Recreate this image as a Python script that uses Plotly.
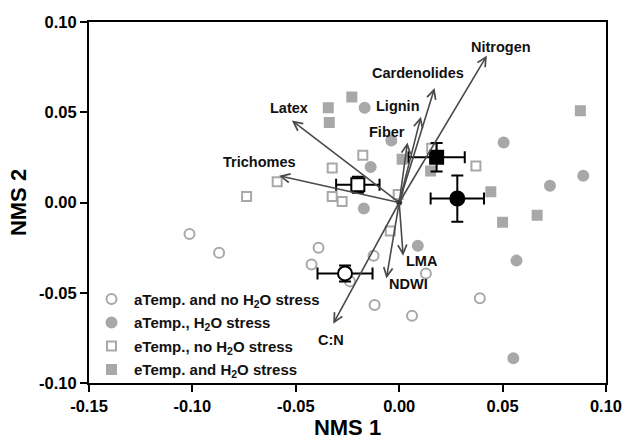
import plotly.graph_objects as go

FONT = "Liberation Sans, Arial, sans-serif"
GRAY = "#a8a8a8"
ARROW = "#4a4a4a"

# --- individual points (NMS1, NMS2) ---
a_noS_x = [-0.1014, -0.0871, -0.0390, -0.0424, -0.0238, -0.0124, 0.0129, -0.0119, 0.0062, 0.0390]
a_noS_y = [-0.0175, -0.0279, -0.0251, -0.0344, -0.0437, -0.0295, -0.0393, -0.0568, -0.0628, -0.0530]

a_S_x = [-0.0167, -0.0038, -0.0138, -0.0171, 0.0090, 0.0505, 0.0729, 0.0890, 0.0567, 0.0552]
a_S_y = [0.0525, 0.0344, 0.0197, -0.0033, -0.0240, 0.0333, 0.0093, 0.0148, -0.0322, -0.0863]

e_noS_x = [-0.0176, -0.0324, -0.0590, -0.0738, -0.0324, -0.0276, -0.0005, 0.0157, 0.0371, -0.0043]
e_noS_y = [0.0262, 0.0191, 0.0115, 0.0033, 0.0033, 0.0005, 0.0044, 0.0301, 0.0202, -0.0158]

e_S_x = [-0.0229, -0.0343, -0.0338, 0.0014, 0.0152, 0.0443, 0.0500, 0.0667, 0.0876]
e_S_y = [0.0585, 0.0525, 0.0443, 0.0240, 0.0175, 0.0060, -0.0109, -0.0071, 0.0508]

# --- group means with SE ---
mean_x = [-0.0262, 0.0281, -0.0200, 0.0181]
mean_y = [-0.0393, 0.0022, 0.0098, 0.0251]
mean_xerr = [0.0133, 0.0129, 0.0105, 0.0136]
mean_yerr = [0.0044, 0.0128, 0.0044, 0.0079]

# --- trait vectors ---
vec_names = ["Nitrogen", "Cardenolides", "Lignin", "Fiber", "Latex", "Trichomes", "LMA", "NDWI", "C:N"]
vec_x = [0.0424, 0.0171, 0.0105, 0.0040, -0.0519, -0.0581, 0.0019, -0.0062, -0.0319]
vec_y = [0.0814, 0.0634, 0.0475, 0.0333, 0.0454, 0.0148, -0.0295, -0.0421, -0.0672]
lab_x = [0.0490, 0.0090, -0.0005, -0.0057, -0.0533, -0.0676, 0.0110, 0.0043, -0.0329]
lab_y = [0.0863, 0.0716, 0.0536, 0.0393, 0.0525, 0.0224, -0.0322, -0.0454, -0.0760]

legend_names = ["aTemp. and no H<sub>2</sub>O stress", "aTemp., H<sub>2</sub>O stress",
                "eTemp., no H<sub>2</sub>O stress", "eTemp. and H<sub>2</sub>O stress"]

tick_vals_x = [-0.15, -0.10, -0.05, 0.00, 0.05, 0.10]
tick_text_x = ["-0.15", "-0.10", "-0.05", "0.00", "0.05", "0.10"]
tick_vals_y = [-0.10, -0.05, 0.00, 0.05, 0.10]
tick_text_y = ["-0.10", "-0.05", "0.00", "0.05", "0.10"]

fig = go.Figure()

groups = [
    (a_noS_x, a_noS_y, "circle-open"),
    (a_S_x, a_S_y, "circle"),
    (e_noS_x, e_noS_y, "square-open"),
    (e_S_x, e_S_y, "square"),
]
for i, (gx, gy, sym) in enumerate(groups):
    fig.add_trace(go.Scatter(
        x=gx, y=gy, mode="markers", name=legend_names[i], legendgroup=f"g{i}",
        marker=dict(symbol=sym, size=10 if "circle" in sym else 9, color=GRAY,
                    line=dict(color=GRAY, width=2)),
    ))

mean_syms = ["circle", "circle", "square", "square"]
mean_fill = ["white", "black", "white", "black"]
for i in range(4):
    fig.add_trace(go.Scatter(
        x=[mean_x[i]], y=[mean_y[i]], mode="markers", showlegend=False,
        error_x=dict(type="data", array=[mean_xerr[i]], color="black", thickness=2, width=6),
        error_y=dict(type="data", array=[mean_yerr[i]], color="black", thickness=2, width=6),
        marker=dict(symbol=mean_syms[i], size=14 if i < 2 else 13, color=mean_fill[i],
                    line=dict(color="black", width=2)),
    ))

# origin dot where vectors meet
fig.add_trace(go.Scatter(x=[0], y=[0], mode="markers", showlegend=False,
                         marker=dict(size=6, color="#333333")))

annotations = []
for i, n in enumerate(vec_names):
    annotations.append(dict(
        x=vec_x[i], y=vec_y[i], ax=0, ay=0, xref="x", yref="y", axref="x", ayref="y",
        text="", showarrow=True, arrowhead=5, arrowsize=1.1, arrowwidth=1.6, arrowcolor=ARROW,
    ))
    annotations.append(dict(
        x=lab_x[i], y=lab_y[i], xref="x", yref="y", text=f"<b>{n}</b>", showarrow=False,
        font=dict(family=FONT, size=14.5, color="#111111"),
    ))

fig.update_layout(
    width=634, height=444,
    margin=dict(l=89, r=20, t=22, b=56),
    paper_bgcolor="white", plot_bgcolor="white",
    font=dict(family=FONT, color="black"),
    annotations=annotations,
    legend=dict(x=0.0, y=0.278, xanchor="left", yanchor="top", itemwidth=35,
                bgcolor="rgba(0,0,0,0)", tracegroupgap=1,
                font=dict(family=FONT, size=15, color="#111111", weight="bold")),
    showlegend=True,
)
fig.update_xaxes(
    range=[-0.15, 0.10], tickvals=tick_vals_x, ticktext=tick_text_x,
    showline=True, linecolor="black", linewidth=2, mirror=True,
    ticks="outside", ticklen=7, tickwidth=2, tickcolor="black",
    showgrid=False, zeroline=False,
    tickfont=dict(family=FONT, size=16.5, weight="bold"),
    title=dict(text="<b>NMS 1</b>", font=dict(family=FONT, size=22), standoff=2),
)
fig.update_yaxes(
    range=[-0.10, 0.10], tickvals=tick_vals_y, ticktext=tick_text_y,
    showline=True, linecolor="black", linewidth=2, mirror=True,
    ticks="outside", ticklen=7, tickwidth=2, tickcolor="black",
    showgrid=False, zeroline=False,
    tickfont=dict(family=FONT, size=16.5, weight="bold"),
    title=dict(text="<b>NMS 2</b>", font=dict(family=FONT, size=22), standoff=6),
)

fig.write_html("out.html")
